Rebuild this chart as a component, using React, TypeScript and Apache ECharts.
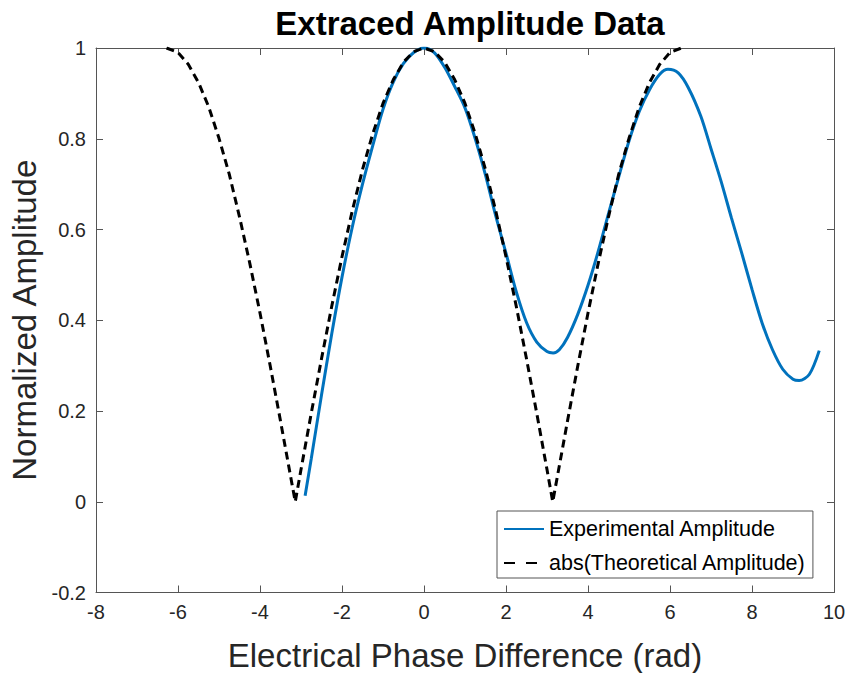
import React, { useEffect, useRef } from "react";
import * as echarts from "echarts";

const titleText = "Extraced Amplitude Data";
const xLabel = "Electrical Phase Difference (rad)";
const yLabel = "Normalized Amplitude";
const seriesNames = ["Experimental Amplitude", "abs(Theoretical Amplitude)"];

const theoX = [
  -6.28, -6.0, -5.75, -5.5, -5.25, -5.0, -4.75, -4.5, -4.25, -4.0, -3.75, -3.5, -3.25, -3.14,
  -3.0, -2.75, -2.5, -2.25, -2.0, -1.75, -1.5, -1.25, -1.0, -0.75, -0.5, -0.25, 0,
  0.25, 0.5, 0.75, 1.0, 1.25, 1.5, 1.75, 2.0, 2.25, 2.5, 2.75, 3.0, 3.14,
  3.25, 3.5, 3.75, 4.0, 4.25, 4.5, 4.75, 5.0, 5.25, 5.5, 5.75, 6.0, 6.28,
];
const theoY = [
  1.0, 0.99, 0.964, 0.924, 0.87, 0.801, 0.722, 0.628, 0.526, 0.416, 0.299, 0.178, 0.054, 0.0,
  0.071, 0.195, 0.315, 0.431, 0.54, 0.641, 0.732, 0.811, 0.878, 0.93, 0.969, 0.992, 1.0,
  0.992, 0.969, 0.93, 0.878, 0.811, 0.732, 0.641, 0.54, 0.431, 0.315, 0.195, 0.071, 0.0,
  0.054, 0.178, 0.299, 0.416, 0.526, 0.628, 0.722, 0.801, 0.87, 0.924, 0.964, 0.99, 1.0,
];

const expX = [
  -2.9, -2.75, -2.5, -2.25, -2.0, -1.75, -1.5, -1.25, -1.0, -0.75, -0.5, -0.25, 0,
  0.25, 0.5, 0.75, 1.0, 1.25, 1.5, 1.75, 2.0, 2.25, 2.5, 2.75, 3.0, 3.15, 3.3, 3.5,
  3.75, 4.0, 4.25, 4.5, 4.75, 5.0, 5.25, 5.5, 5.75, 5.95, 6.2, 6.45, 6.75, 7.0,
  7.25, 7.5, 7.75, 8.0, 8.25, 8.5, 8.75, 9.0, 9.15, 9.4, 9.64,
];
const expY = [
  0.013, 0.095, 0.235, 0.37, 0.495, 0.605, 0.7, 0.785, 0.865, 0.925, 0.966, 0.99, 1.0,
  0.99, 0.958, 0.915, 0.868, 0.8, 0.72, 0.63, 0.548, 0.463, 0.395, 0.352, 0.331, 0.328, 0.335, 0.362,
  0.413, 0.477, 0.552, 0.635, 0.716, 0.795, 0.86, 0.908, 0.942, 0.953, 0.945, 0.912, 0.85, 0.778,
  0.705, 0.625, 0.548, 0.468, 0.393, 0.335, 0.292, 0.27, 0.267, 0.281, 0.333,
];

const xMin = -8, xMax = 10, xStep = 2;
const yMin = -0.2, yMax = 1, yStep = 0.2;

const FONT = "'Liberation Sans', Arial, Helvetica, sans-serif";
const AXIS_COLOR = "#555555";
const TEXT_COLOR = "#262626";

export default function App() {
  const ref = useRef<HTMLDivElement>(null);
  useEffect(() => {
    if (!ref.current) return;
    const chart = echarts.init(ref.current, undefined, { renderer: "svg" });
    const tickCommon = {
      axisLine: { show: true, onZero: false, lineStyle: { color: AXIS_COLOR, width: 1 } },
      axisTick: { show: true, inside: true, length: 7, lineStyle: { color: AXIS_COLOR } },
      splitLine: { show: false },
    };
    const fmtY = (v: number) => String(Number(v.toFixed(1)));
    chart.setOption({
      animation: false,
      backgroundColor: "#ffffff",
      title: {
        text: titleText,
        left: 465,
        top: 2,
        textAlign: "center",
        textStyle: { fontFamily: FONT, fontSize: 33, fontWeight: "bold", color: "#000" },
      },
      grid: {
        left: 96,
        top: 48,
        width: 738,
        height: 544.5,
        containLabel: false,
        outerBoundsMode: "none",
      },
      legend: {
        orient: "vertical",
        left: 497,
        top: 511,
        data: [
          { name: seriesNames[0] },
          { name: seriesNames[1], lineStyle: { type: [11, 11] } },
        ],
        itemWidth: 40,
        itemHeight: 14,
        itemGap: 12,
        padding: [7, 7, 4, 6],
        borderColor: AXIS_COLOR,
        borderWidth: 1,
        borderRadius: 0,
        backgroundColor: "#ffffff",
        itemStyle: { opacity: 0 },
        textStyle: { fontFamily: FONT, fontSize: 21.5, color: "#000", lineHeight: 22 },
      },
      xAxis: [
        {
          type: "value", min: xMin, max: xMax, interval: xStep, position: "bottom", ...tickCommon,
          axisLabel: { color: TEXT_COLOR, fontFamily: FONT, fontSize: 20, margin: 9 },
          name: xLabel, nameLocation: "middle", nameGap: 46,
          nameTextStyle: { fontFamily: FONT, fontSize: 33, color: TEXT_COLOR },
        },
        {
          type: "value", min: xMin, max: xMax, interval: xStep, position: "top", ...tickCommon,
          axisLabel: { show: false },
        },
      ],
      yAxis: [
        {
          type: "value", min: yMin, max: yMax, interval: yStep, position: "left", ...tickCommon,
          axisLabel: { color: TEXT_COLOR, fontFamily: FONT, fontSize: 20, margin: 10, formatter: fmtY },
          name: yLabel, nameLocation: "middle", nameGap: 54,
          nameTextStyle: { fontFamily: FONT, fontSize: 33, color: TEXT_COLOR },
        },
        {
          type: "value", min: yMin, max: yMax, interval: yStep, position: "right", ...tickCommon,
          axisLabel: { show: false },
        },
      ],
      series: [
        {
          name: seriesNames[0], type: "line", xAxisIndex: 0, yAxisIndex: 0,
          data: expX.map((x, i) => [x, expY[i]]),
          showSymbol: false, symbol: "none", smooth: 0.3,
          lineStyle: { color: "#0072BD", width: 3 }, itemStyle: { color: "#0072BD" }, z: 3,
        },
        {
          name: seriesNames[1], type: "line", xAxisIndex: 0, yAxisIndex: 0,
          data: theoX.map((x, i) => [x, theoY[i]]),
          showSymbol: false, symbol: "none",
          lineStyle: { color: "#000000", width: 3, type: [8, 5] }, itemStyle: { color: "#000000" }, z: 4,
        },
      ],
    });
    return () => chart.dispose();
  }, []);
  return (
    <div ref={ref} style={{ position: "absolute", left: 0, top: 0, width: 847, height: 673 }} />
  );
}
